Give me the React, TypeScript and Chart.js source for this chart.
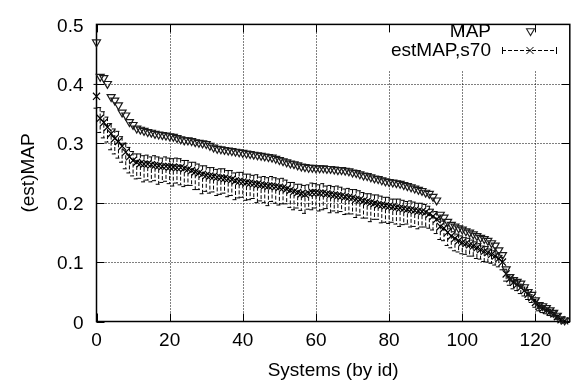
import React, { useEffect, useRef } from 'react';
import { Chart, registerables } from 'chart.js';

Chart.register(...registerables);

// ---- data ----
const mapValues = [
  0.470, 0.412, 0.410, 0.400, 0.378, 0.372, 0.364, 0.352, 0.347, 0.336,
  0.331, 0.325, 0.323, 0.321, 0.319, 0.318, 0.316, 0.315, 0.314, 0.313,
  0.312, 0.311, 0.309, 0.307, 0.305, 0.305, 0.304, 0.302, 0.301, 0.300,
  0.299, 0.296, 0.293, 0.291, 0.290, 0.289, 0.288, 0.287, 0.286, 0.285,
  0.284, 0.283, 0.282, 0.281, 0.280, 0.279, 0.278, 0.277, 0.276, 0.274,
  0.272, 0.270, 0.268, 0.266, 0.265, 0.263, 0.261, 0.260, 0.259, 0.259,
  0.258, 0.258, 0.258, 0.257, 0.257, 0.256, 0.255, 0.255, 0.254, 0.253,
  0.251, 0.250, 0.248, 0.246, 0.245, 0.243, 0.241, 0.240, 0.238, 0.236,
  0.235, 0.234, 0.233, 0.232, 0.230, 0.228, 0.226, 0.224, 0.222, 0.220,
  0.217, 0.215, 0.210, 0.204, 0.180, 0.175, 0.168, 0.163, 0.160, 0.157,
  0.155, 0.152, 0.150, 0.147, 0.144, 0.141, 0.139, 0.136, 0.132, 0.128,
  0.120, 0.112, 0.088, 0.075, 0.070, 0.067, 0.064, 0.058, 0.050, 0.045,
  0.036, 0.028, 0.026, 0.023, 0.019, 0.015, 0.010, 0.004, 0.002,
];

const estValues = [
  0.379, 0.342, 0.335, 0.327, 0.316, 0.308, 0.303, 0.295, 0.285, 0.277,
  0.271, 0.268, 0.266, 0.265, 0.265, 0.264, 0.263, 0.262, 0.261, 0.261,
  0.260, 0.260, 0.259, 0.259, 0.258, 0.256, 0.254, 0.252, 0.250, 0.248,
  0.246, 0.245, 0.244, 0.243, 0.242, 0.241, 0.240, 0.239, 0.237, 0.236,
  0.235, 0.234, 0.233, 0.232, 0.231, 0.230, 0.229, 0.228, 0.228, 0.227,
  0.226, 0.225, 0.223, 0.221, 0.219, 0.217, 0.215, 0.214, 0.216, 0.217,
  0.217, 0.216, 0.216, 0.215, 0.214, 0.213, 0.212, 0.211, 0.210, 0.209,
  0.208, 0.206, 0.205, 0.203, 0.202, 0.200, 0.199, 0.197, 0.196, 0.195,
  0.194, 0.193, 0.192, 0.191, 0.190, 0.189, 0.188, 0.187, 0.186, 0.185,
  0.184, 0.181, 0.177, 0.172, 0.160, 0.157, 0.150, 0.144, 0.140, 0.136,
  0.133, 0.131, 0.129, 0.127, 0.124, 0.121, 0.118, 0.116, 0.113, 0.110,
  0.106, 0.100, 0.080, 0.072, 0.066, 0.062, 0.057, 0.052, 0.046, 0.040,
  0.032, 0.025, 0.022, 0.019, 0.016, 0.013, 0.008, 0.003, 0.001,
];

const estErrUp = [
  0.020, 0.018, 0.018, 0.017, 0.017, 0.016, 0.017, 0.016, 0.015, 0.016,
  0.015, 0.014, 0.016, 0.014, 0.015, 0.013, 0.016, 0.015, 0.014, 0.016,
  0.015, 0.014, 0.016, 0.015, 0.013, 0.015, 0.014, 0.016, 0.015, 0.014,
  0.016, 0.014, 0.015, 0.013, 0.015, 0.016, 0.014, 0.015, 0.013, 0.015,
  0.016, 0.014, 0.015, 0.014, 0.016, 0.013, 0.015, 0.014, 0.016, 0.015,
  0.014, 0.016, 0.015, 0.013, 0.015, 0.014, 0.016, 0.015, 0.014, 0.016,
  0.015, 0.014, 0.016, 0.013, 0.015, 0.014, 0.016, 0.015, 0.013, 0.015,
  0.014, 0.016, 0.015, 0.014, 0.013, 0.015, 0.014, 0.016, 0.015, 0.014,
  0.015, 0.013, 0.014, 0.015, 0.014, 0.013, 0.015, 0.014, 0.013, 0.014,
  0.013, 0.013, 0.012, 0.013, 0.012, 0.012, 0.011, 0.012, 0.011, 0.011,
  0.011, 0.010, 0.011, 0.010, 0.010, 0.010, 0.009, 0.010, 0.009, 0.009,
  0.009, 0.008, 0.008, 0.007, 0.007, 0.007, 0.006, 0.006, 0.006, 0.005,
  0.005, 0.005, 0.004, 0.004, 0.004, 0.003, 0.003, 0.002, 0.001,
];

const estErrDown = [
  0.020, 0.024, 0.026, 0.025, 0.027, 0.026, 0.028, 0.027, 0.028, 0.027,
  0.026, 0.028, 0.025, 0.030, 0.027, 0.029, 0.026, 0.031, 0.027, 0.025,
  0.028, 0.032, 0.026, 0.029, 0.031, 0.027, 0.025, 0.030, 0.028, 0.033,
  0.027, 0.029, 0.026, 0.031, 0.028, 0.025, 0.030, 0.027, 0.032, 0.028,
  0.026, 0.030, 0.028, 0.025, 0.031, 0.027, 0.029, 0.033, 0.026, 0.028,
  0.030, 0.027, 0.025, 0.029, 0.031, 0.026, 0.028, 0.032, 0.027, 0.029,
  0.026, 0.030, 0.028, 0.025, 0.031, 0.027, 0.029, 0.026, 0.030, 0.028,
  0.027, 0.031, 0.026, 0.029, 0.028, 0.032, 0.027, 0.025, 0.030, 0.028,
  0.029, 0.026, 0.028, 0.031, 0.027, 0.025, 0.029, 0.027, 0.030, 0.026,
  0.025, 0.024, 0.023, 0.024, 0.022, 0.021, 0.022, 0.020, 0.021, 0.019,
  0.019, 0.018, 0.019, 0.017, 0.018, 0.016, 0.017, 0.016, 0.015, 0.015,
  0.014, 0.013, 0.012, 0.011, 0.011, 0.010, 0.010, 0.009, 0.009, 0.008,
  0.008, 0.007, 0.007, 0.006, 0.006, 0.005, 0.004, 0.003, 0.002,
];

const systemIds = mapValues.map((_, i) => i);

const xTicks = [0, 20, 40, 60, 80, 100, 120];
const yTicks = [0, 0.1, 0.2, 0.3, 0.4, 0.5];
const yTickLabels = ['0', '0.1', '0.2', '0.3', '0.4', '0.5'];

const seriesNames = ['MAP', 'estMAP,s70'];
const xTitle = 'Systems (by id)';
const yTitle = '(est)MAP';

const FONT = "'Liberation Sans', Arial, Helvetica, sans-serif";
const FONT_SIZE = 19;

function drawTriDown(ctx: CanvasRenderingContext2D, x: number, y: number, r: number) {
  let rad = Math.PI;
  ctx.beginPath();
  ctx.moveTo(x + Math.sin(rad) * r, y - Math.cos(rad) * r);
  rad += (2 * Math.PI) / 3;
  ctx.lineTo(x + Math.sin(rad) * r, y - Math.cos(rad) * r);
  rad += (2 * Math.PI) / 3;
  ctx.lineTo(x + Math.sin(rad) * r, y - Math.cos(rad) * r);
  ctx.closePath();
  ctx.stroke();
}

function drawCross(ctx: CanvasRenderingContext2D, x: number, y: number, r: number) {
  const d = r * Math.SQRT1_2;
  ctx.beginPath();
  ctx.moveTo(x - d, y - d);
  ctx.lineTo(x + d, y + d);
  ctx.moveTo(x - d, y + d);
  ctx.lineTo(x + d, y - d);
  ctx.stroke();
}

const framePlugin = {
  id: 'gnuFrame',
  beforeDatasetsDraw(chart: any) {
    const { ctx, chartArea, scales } = chart;
    const xs = scales.x;
    const ys = scales.y;
    const { left, right, top, bottom } = chartArea;
    ctx.save();
    // dotted grid
    ctx.strokeStyle = '#000';
    ctx.lineWidth = 1;
    ctx.setLineDash([1, 2]);
    xTicks.forEach((v) => {
      const px = Math.round(xs.getPixelForValue(v)) + 0.5;
      if (px <= left + 1 || px >= right - 1) return;
      ctx.beginPath();
      ctx.moveTo(px, bottom);
      ctx.lineTo(px, top);
      ctx.stroke();
    });
    yTicks.forEach((v) => {
      const py = Math.round(ys.getPixelForValue(v)) + 0.5;
      if (py <= top + 1 || py >= bottom - 1) return;
      ctx.beginPath();
      ctx.moveTo(left, py);
      ctx.lineTo(right, py);
      ctx.stroke();
    });
    ctx.setLineDash([]);
    // legend box (opaque)
    ctx.fillStyle = '#fff';
    ctx.fillRect(386, top, right - 386, 46);
    // border
    ctx.lineWidth = 1.5;
    ctx.strokeRect(left, top, right - left, bottom - top);
    // tick marks inside, mirrored
    const tl = 8;
    ctx.lineWidth = 1;
    ctx.beginPath();
    xTicks.forEach((v) => {
      const px = Math.round(xs.getPixelForValue(v)) + 0.5;
      ctx.moveTo(px, bottom);
      ctx.lineTo(px, bottom - tl);
      ctx.moveTo(px, top);
      ctx.lineTo(px, top + tl);
    });
    yTicks.forEach((v) => {
      const py = Math.round(ys.getPixelForValue(v)) + 0.5;
      ctx.moveTo(left, py);
      ctx.lineTo(left + tl, py);
      ctx.moveTo(right, py);
      ctx.lineTo(right - tl, py);
    });
    ctx.stroke();
    ctx.restore();
  },
  beforeDatasetDraw(chart: any, args: any) {
    if (args.index !== 1) return;
    const { ctx, scales } = chart;
    const xs = scales.x;
    const ys = scales.y;
    ctx.save();
    ctx.strokeStyle = '#000';
    ctx.lineWidth = 1;
    ctx.setLineDash([4, 2]);
    for (let i = 0; i < estValues.length; i++) {
      const px = xs.getPixelForValue(systemIds[i]);
      const pHi = ys.getPixelForValue(estValues[i] + estErrUp[i]);
      const pLo = ys.getPixelForValue(estValues[i] - estErrDown[i]);
      ctx.beginPath();
      ctx.moveTo(px - 3, pHi);
      ctx.lineTo(px + 3, pHi);
      ctx.moveTo(px, pHi);
      ctx.lineTo(px, pLo);
      ctx.moveTo(px - 3, pLo);
      ctx.lineTo(px + 3, pLo);
      ctx.stroke();
    }
    ctx.restore();
  },
  afterDraw(chart: any) {
    const { ctx, chartArea } = chart;
    const { left, right, top, bottom } = chartArea;
    ctx.save();
    ctx.fillStyle = '#000';
    ctx.font = `${FONT_SIZE}px ${FONT}`;
    // legend
    ctx.textAlign = 'right';
    ctx.textBaseline = 'middle';
    ctx.fillText(seriesNames[0], 491, 32);
    ctx.fillText(seriesNames[1], 491, 51);
    ctx.strokeStyle = '#222';
    ctx.lineWidth = 1.1;
    drawTriDown(ctx, 530.5, 31, 4.6);
    ctx.strokeStyle = '#000';
    ctx.lineWidth = 1;
    ctx.setLineDash([4, 2]);
    ctx.beginPath();
    ctx.moveTo(502, 50.5);
    ctx.lineTo(557, 50.5);
    ctx.stroke();
    ctx.setLineDash([]);
    ctx.beginPath();
    ctx.moveTo(502.5, 47);
    ctx.lineTo(502.5, 54);
    ctx.moveTo(556.5, 47);
    ctx.lineTo(556.5, 54);
    ctx.stroke();
    drawCross(ctx, 530, 50.5, 5);
    // axis titles
    ctx.textAlign = 'center';
    ctx.fillText(xTitle, (left + right) / 2, 371);
    ctx.translate(29, (top + bottom) / 2);
    ctx.rotate(-Math.PI / 2);
    ctx.fillText(yTitle, 0, 0);
    ctx.restore();
  },
};

export default function App() {
  const canvasRef = useRef<HTMLCanvasElement | null>(null);

  useEffect(() => {
    const canvas = canvasRef.current;
    if (!canvas) return;
    const chart = new Chart(canvas, {
      type: 'scatter',
      data: {
        datasets: [
          {
            label: seriesNames[0],
            data: mapValues.map((v, i) => ({ x: systemIds[i], y: v })),
            pointStyle: 'triangle',
            rotation: 180,
            pointRadius: 4.6,
            pointHoverRadius: 4.6,
            borderColor: '#1a1a1a',
            backgroundColor: 'rgba(0,0,0,0)',
            borderWidth: 1.2,
            showLine: false,
            clip: false,
          } as any,
          {
            label: seriesNames[1],
            data: estValues.map((v, i) => ({ x: systemIds[i], y: v })),
            pointStyle: 'crossRot',
            pointRadius: 5,
            pointHoverRadius: 5,
            borderColor: '#000',
            backgroundColor: '#000',
            borderWidth: 1.2,
            showLine: false,
            clip: false,
          } as any,
        ],
      },
      options: {
        animation: false,
        responsive: false,
        devicePixelRatio: 1,
        events: [],
        layout: { padding: { top: 13.5, right: 0, bottom: 0, left: 0 } },
        plugins: {
          legend: { display: false },
          tooltip: { enabled: false },
          title: { display: false },
        },
        scales: {
          x: {
            type: 'linear',
            min: 0,
            max: 129.4,
            grid: { display: false, drawTicks: false, tickLength: 0 },
            border: { display: false },
            afterBuildTicks: (scale: any) => {
              scale.ticks = xTicks.map((v) => ({ value: v }));
            },
            afterFit: (scale: any) => {
              scale.height = 66.5;
            },
            ticks: {
              autoSkip: false,
              maxRotation: 0,
              padding: 8,
              color: '#000',
              font: { family: FONT, size: FONT_SIZE },
              callback: (v: any) => String(v),
            },
          },
          y: {
            type: 'linear',
            min: 0,
            max: 0.5,
            grid: { display: false, drawTicks: false, tickLength: 0 },
            border: { display: false },
            afterBuildTicks: (scale: any) => {
              scale.ticks = yTicks.map((v) => ({ value: v }));
            },
            afterFit: (scale: any) => {
              scale.width = 96.5;
            },
            ticks: {
              autoSkip: false,
              padding: 13,
              labelOffset: 2,
              color: '#000',
              font: { family: FONT, size: FONT_SIZE },
              callback: (v: any) => {
                const idx = yTicks.findIndex((t) => Math.abs(t - Number(v)) < 1e-9);
                return idx >= 0 ? yTickLabels[idx] : '';
              },
            },
          },
        },
      } as any,
      plugins: [framePlugin],
    });
    return () => chart.destroy();
  }, []);

  return (
    <div style={{ position: 'fixed', left: 0, top: 0, width: 576, height: 388, background: '#fff' }}>
      <canvas ref={canvasRef} width={576} height={388} style={{ display: 'block' }} />
    </div>
  );
}
